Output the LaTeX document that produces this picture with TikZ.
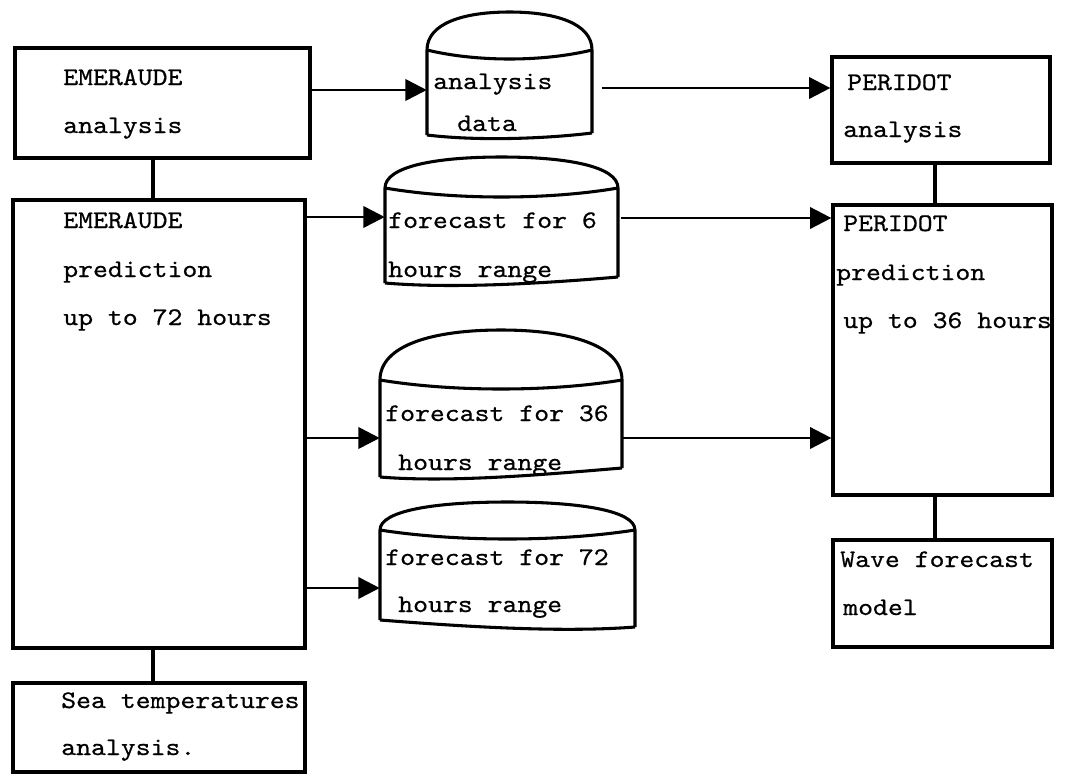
\documentclass[tikz,border=0pt]{standalone}
\usepackage{fontspec}
\newfontfamily\typew{lmmono10-regular.otf}[FakeStretch=1.12,FakeBold=0.6]
\usetikzlibrary{arrows.meta,fit}
\newcommand\drawcyl[7]{% name, L, R, T, Y, Bleft, Bright
  \node[fit={(#2,#5) (#3,#6)}, inner sep=0pt] (#1) {};
  \draw[cyl] (#2,#6) -- (#2,#5) .. controls (#2,{#4+0.3*(#5-#4)}) and ({#2+0.22*(#3-#2)},#4) .. ({(#2+#3)/2},#4)
     .. controls ({#3-0.22*(#3-#2)},#4) and (#3,{#4+0.3*(#5-#4)}) .. (#3,#5) -- (#3,#7);
  \draw[cyl] (#2,#5) .. controls ({#2+0.3*(#3-#2)},{#5+12}) and ({#3-0.3*(#3-#2)},{#5+12}) .. (#3,#5);
  \draw[cyl] (#2,#6) .. controls ({#2+0.3*(#3-#2)},{#6+6}) and ({#3-0.3*(#3-#2)},{#7+6}) .. (#3,#7);
}
\begin{document}
\begin{tikzpicture}[x=0.75pt,y=-0.75pt,
  box/.style={draw, line width=2.4pt, inner sep=0pt},
  cyl/.style={line width=2.3pt, line join=round},
  txt/.style={anchor=base west, inner sep=0pt, font=\typew\fontsize{19}{22}\selectfont},
  arr/.style={line width=2pt, -{Triangle[length=16pt,width=16pt]}},
  link/.style={line width=2.6pt}]
\useasboundingbox (0,0) rectangle (1065,776);
% left column boxes
\node[box, fit={(15,48) (310,158)}] (ea) {};
\node[box, fit={(13,200) (305,648)}] (ep) {};
\node[box, fit={(13,683) (305,772)}] (sea) {};
% right column boxes
\node[box, fit={(832,57) (1050,163)}] (pa) {};
\node[box, fit={(833,205) (1052,495)}] (pp) {};
\node[box, fit={(833,540) (1052,647)}] (wave) {};
% cylinders
\drawcyl{c1}{427}{592}{12}{50}{135}{133}
\drawcyl{c2}{385}{618}{157}{188}{283}{277}
\drawcyl{c3}{380}{622}{330}{380}{477}{468}
\drawcyl{c4}{380}{635}{502}{530}{620}{627}
% texts
\node[txt] (t1) at (63,85) {EMERAUDE};
\node[txt] (t2) at (63,133) {analysis};
\node[txt] (t3) at (63,228) {EMERAUDE};
\node[txt] (t4) at (63,277) {prediction};
\node[txt] (t5) at (63,325) {up to 72 hours};
\node[txt] (t6) at (61,708) {Sea temperatures};
\node[txt] (t7) at (61,755) {analysis.};
\node[txt] (t8) at (433,89) {analysis};
\node[txt] (t9) at (457,131) {data};
\node[txt] (t10) at (388,228) {forecast for 6};
\node[txt] (t11) at (388,277) {hours range};
\node[txt] (t12) at (385,421) {forecast for 36};
\node[txt] (t13) at (398,470) {hours range};
\node[txt] (t14) at (385,565) {forecast for 72};
\node[txt] (t15) at (398,612) {hours range};
\node[txt] (t16) at (847,90) {PERIDOT};
\node[txt] (t17) at (843,137) {analysis};
\node[txt] (t18) at (843,231) {PERIDOT};
\node[txt] (t19) at (836,280) {prediction};
\node[txt] (t20) at (843,328) {up to 36 hours};
\node[txt] (t21) at (840,567) {Wave forecast};
\node[txt] (t22) at (843,615) {model};
% links
\draw[link] (ea.south -| 153,0) -- (ep.north -| 153,0);
\draw[link] (ep.south -| 153,0) -- (sea.north -| 153,0);
\draw[link] (pa.south -| 935,0) -- (pp.north -| 935,0);
\draw[link] (pp.south -| 935,0) -- (wave.north -| 935,0);
% arrows
\draw[arr] (ea.east |- 0,90) -- (c1.west |- 0,90);
\draw[arr] ([xshift=7pt]c1.east |- 0,88) -- (pa.west |- 0,88);
\draw[arr] (ep.east |- 0,217) -- (c2.west |- 0,217);
\draw[arr] ([xshift=2pt]c2.east |- 0,218) -- (pp.west |- 0,218);
\draw[arr] (ep.east |- 0,438) -- (c3.west |- 0,438);
\draw[arr] (c3.east |- 0,438) -- (pp.west |- 0,438);
\draw[arr] (ep.east |- 0,588) -- (c4.west |- 0,588);
\end{tikzpicture}
\end{document}
